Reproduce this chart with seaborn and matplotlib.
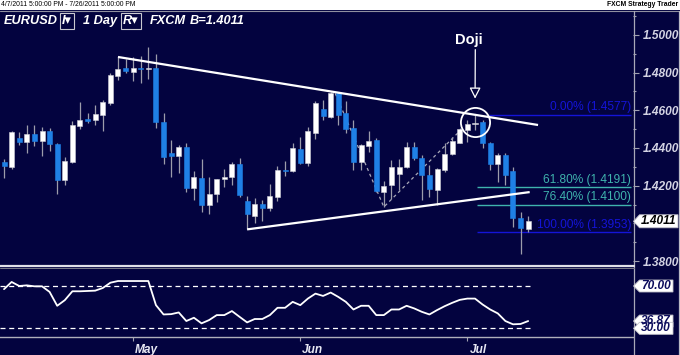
import matplotlib
matplotlib.use('Agg')
import matplotlib.pyplot as plt
import seaborn as sns
import numpy as np
from matplotlib.patches import Polygon, Rectangle
from matplotlib.lines import Line2D
from matplotlib.transforms import IdentityTransform, ScaledTranslation

# ---------------- data ----------------
opens = [1.4326, 1.4299, 1.4453, 1.4432, 1.4474, 1.4437, 1.4490, 1.4421, 1.4230, 1.4326,
         1.4517, 1.4554, 1.4549, 1.4575, 1.4639, 1.4782, 1.4825, 1.4804, 1.4825, 1.4819,
         1.4825, 1.4538, 1.4373, 1.4357, 1.4405, 1.4188, 1.4241, 1.4097, 1.4156, 1.4235,
         1.4246, 1.4315, 1.4119, 1.4039, 1.4103, 1.4081, 1.4140, 1.4283, 1.4278, 1.4395,
         1.4320, 1.4480, 1.4607, 1.4565, 1.4692, 1.4586, 1.4506, 1.4326, 1.4411, 1.4442,
         1.4166, 1.4203, 1.4262, 1.4299, 1.4405, 1.4347, 1.4257, 1.4177, 1.4283, 1.4368,
         1.4427, 1.4496, 1.4527, 1.4538, 1.4427, 1.4315, 1.4363, 1.4278, 1.4028, 1.3970]
highs = [1.4342, 1.4490, 1.4485, 1.4522, 1.4522, 1.4511, 1.4506, 1.4427, 1.4352, 1.4543,
         1.4644, 1.4586, 1.4628, 1.4655, 1.4798, 1.4883, 1.4873, 1.4883, 1.4888, 1.4936,
         1.4899, 1.4586, 1.4442, 1.4416, 1.4427, 1.4278, 1.4342, 1.4246, 1.4235, 1.4288,
         1.4326, 1.4347, 1.4145, 1.4134, 1.4124, 1.4209, 1.4304, 1.4331, 1.4427, 1.4458,
         1.4511, 1.4650, 1.4655, 1.4697, 1.4695, 1.4650, 1.4549, 1.4421, 1.4490, 1.4453,
         1.4225, 1.4336, 1.4342, 1.4432, 1.4432, 1.4363, 1.4310, 1.4294, 1.4427, 1.4458,
         1.4506, 1.4549, 1.4577, 1.4549, 1.4432, 1.4373, 1.4373, 1.4299, 1.4060, 1.4039]
lows = [1.4241, 1.4288, 1.4416, 1.4373, 1.4411, 1.4357, 1.4384, 1.4156, 1.4203, 1.4320,
        1.4501, 1.4533, 1.4522, 1.4490, 1.4628, 1.4761, 1.4798, 1.4756, 1.4745, 1.4766,
        1.4506, 1.4315, 1.4246, 1.4267, 1.4166, 1.4124, 1.4060, 1.4050, 1.4113, 1.4193,
        1.4203, 1.4140, 1.3968, 1.4002, 1.4012, 1.4065, 1.4119, 1.4251, 1.4273, 1.4315,
        1.4304, 1.4448, 1.4549, 1.4560, 1.4522, 1.4480, 1.4283, 1.4283, 1.4379, 1.4166,
        1.4087, 1.4129, 1.4177, 1.4294, 1.4336, 1.4124, 1.4140, 1.4097, 1.4273, 1.4363,
        1.4427, 1.4432, 1.4496, 1.4400, 1.4283, 1.4219, 1.4203, 1.3980, 1.3837, 1.3954]
closes = [1.4304, 1.4485, 1.4432, 1.4474, 1.4437, 1.4490, 1.4421, 1.4230, 1.4331, 1.4522,
          1.4549, 1.4543, 1.4581, 1.4644, 1.4788, 1.4819, 1.4809, 1.4825, 1.4817, 1.4825,
          1.4538, 1.4352, 1.4357, 1.4405, 1.4188, 1.4246, 1.4097, 1.4156, 1.4235, 1.4246,
          1.4315, 1.4150, 1.4050, 1.4103, 1.4081, 1.4145, 1.4283, 1.4278, 1.4400, 1.4320,
          1.4490, 1.4639, 1.4570, 1.4692, 1.4575, 1.4501, 1.4326, 1.4416, 1.4437, 1.4172,
          1.4198, 1.4299, 1.4299, 1.4405, 1.4347, 1.4257, 1.4182, 1.4288, 1.4368, 1.4437,
          1.4501, 1.4527, 1.4535, 1.4427, 1.4315, 1.4363, 1.4257, 1.4028, 1.3975, 1.4011]
rsi = [67.0, 73.8, 70.0, 70.6, 69.7, 69.7, 64.4, 51.3, 56.6, 65.0,
       65.0, 65.3, 65.6, 68.1, 73.1, 74.7, 74.7, 74.7, 74.7, 74.7,
       51.9, 43.1, 43.4, 45.0, 36.9, 40.0, 34.7, 37.8, 42.5, 42.5,
       46.3, 40.9, 35.6, 38.8, 38.8, 42.5, 49.4, 49.4, 55.0, 51.9,
       58.1, 62.8, 60.6, 63.8, 59.7, 55.0, 47.8, 51.3, 51.3, 42.5,
       42.5, 47.8, 47.8, 51.3, 48.8, 45.6, 43.1, 47.2, 50.9, 54.1,
       56.9, 58.1, 58.1, 52.5, 47.8, 44.1, 36.9, 33.8, 34.1, 36.87]

month_labels = ["May", "Jun", "Jul"]
month_idx = [17, 39, 61]
price_ticks = [1.38, 1.40, 1.42, 1.44, 1.46, 1.48, 1.50]
rsi_levels = [70, 30]
last_price = 1.4011

fib_pct = ["0.00%", "61.80%", "76.40%", "100.00%"]
fib_vals = [1.4577, 1.4191, 1.4100, 1.3953]
fib_start = [63.9, 62.2, 62.2, 62.2]
fib_colors = ["#1414d8", "#3fb3ad", "#3fb3ad", "#1414d8"]

trend_upper_x = [15, 70.3]
trend_upper_y = [1.4883, 1.4522]
trend_lower_x = [32, 69.2]
trend_lower_y = [1.3968, 1.4166]
zig_x = [43.6, 50, 60]
zig_y = [1.4690, 1.4087, 1.4490]
doji_idx = 62

# ---------------- style ----------------
sns.set_theme(style='dark')
plt.rcParams['font.family'] = ['Liberation Sans', 'DejaVu Sans']

NAVY = '#03033f'
W, H = 680, 355
fig = plt.figure(figsize=(6.8, 3.55), dpi=100, facecolor=NAVY)

def fy(py):
    return 1 - py / H

ax = fig.add_axes([0, fy(265), 633 / W, (265 - 11) / H])
axl = fig.add_axes([0, fy(337), 633 / W, (337 - 268) / H])
for a in (ax, axl):
    a.set_facecolor(NAVY)
    for s in a.spines.values():
        s.set_visible(False)
    a.grid(False)

x = np.arange(len(opens))
o = np.array(opens); h = np.array(highs); l = np.array(lows); c = np.array(closes)
up = c >= o
body_b = np.minimum(o, c)
body_h = np.maximum(np.abs(c - o), 0.0006)
colors = np.where(up, '#ffffff', '#1f80e6')
edges = np.where(up, '#d0d0d8', '#1f80e6')

ax.vlines(x, l, h, color='#9c9cab', lw=0.9, zorder=2)
ax.bar(x, body_h, bottom=body_b, width=0.66, color=colors, edgecolor=edges, lw=0.4, zorder=3)

XMIN, XMAX = -0.53, 82.8
ax.set_xlim(XMIN, XMAX)
ax.set_ylim(1.3779, 1.5127)
axl.set_xlim(XMIN, XMAX)
axl.set_ylim(21.8, 87)

# trend lines
ax.plot(trend_upper_x, trend_upper_y, color='white', lw=1.6, zorder=4, solid_capstyle='butt')
ax.plot(trend_lower_x, trend_lower_y, color='white', lw=1.6, zorder=4, solid_capstyle='butt')
ax.plot(zig_x, zig_y, color='#a8a8b8', lw=0.9, ls=(0, (2.5, 2.5)), zorder=1)

# fib lines + labels
for pct, v, xs, col in zip(fib_pct, fib_vals, fib_start, fib_colors):
    ax.hlines(v, xs, XMAX - 0.25, color=col, lw=1.0, zorder=1)
    ax.annotate(f"{pct} ({v:.4f})", xy=(XMAX - 0.25, v), xytext=(0, 1.5),
                textcoords='offset pixels', ha='right', va='bottom',
                color=col, fontsize=8.6, zorder=5)

# doji circle + arrow
doji_mid = (highs[doji_idx] + lows[doji_idx]) / 2
ax.plot([doji_idx], [doji_mid], marker='o', ms=21, mfc='none', mec='white', mew=1.3, zorder=5)
ax.annotate('', xy=(doji_idx, highs[doji_idx]), xycoords='data',
            xytext=(0.3, 65), textcoords='offset pixels',
            arrowprops=dict(arrowstyle='-|>,head_length=0.55,head_width=0.28', lw=0.9,
                            color='white', fc=NAVY, ec='white', shrinkA=0, shrinkB=11.5),
            zorder=5)
ax.annotate('Doji', xy=(doji_idx, highs[doji_idx]), xytext=(-6, 75),
            textcoords='offset pixels', ha='center', va='center', color='white',
            fontsize=10.5, fontweight='bold', zorder=5)

# y ticks on the right
ax.yaxis.tick_right()
ax.set_yticks(price_ticks)
ax.set_yticklabels([f"{t:.4f}" if abs(t - 1.40) > 1e-9 else "" for t in price_ticks])
ax.set_yticks(np.arange(1.38, 1.5101, 0.01), minor=True)
ax.tick_params(axis='y', which='major', direction='out', length=4, width=0.8, color='#a0a0b0',
               labelcolor='#d4d4e4', labelsize=8.6, pad=3, right=True, left=False)
ax.tick_params(axis='y', which='minor', direction='out', length=2.5, width=0.8, color='#a0a0b0',
               right=True, left=False)
for t in ax.get_yticklabels():
    t.set_style('italic'); t.set_weight('bold')
ax.set_xticks([])

# lower panel
sns.lineplot(x=x, y=rsi, ax=axl, color='white', lw=1.3, zorder=3)
axl.hlines(rsi_levels, XMIN, 69.2, colors='white', lw=0.9, linestyles=[(0, (4, 3))], zorder=2)
axl.set_yticks([])
axl.set_xticks(month_idx)
axl.set_xticklabels(month_labels)
axl.tick_params(axis='x', direction='out', length=3, width=0.8, color='#a0a0b0',
                labelcolor='#e8e8f4', labelsize=8.6, pad=2, bottom=True)
for t in axl.get_xticklabels():
    t.set_style('italic'); t.set_weight('bold'); t.set_ha('left')
    t.set_transform(t.get_transform() + ScaledTranslation(2 / 100, 0, fig.dpi_scale_trans))
axl.spines['bottom'].set_visible(True)
axl.spines['bottom'].set_color('#b0b0bc')
axl.spines['bottom'].set_linewidth(1.0)
axl.set_xlabel(''); axl.set_ylabel('')

# ---------------- figure furniture ----------------
fig.add_artist(Rectangle((0, fy(10)), 1, 10 / H, transform=fig.transFigure,
                         facecolor='white', edgecolor='none', zorder=0.5))
fig.add_artist(Line2D([0, 1], [fy(10.5)] * 2, transform=fig.transFigure, color='#9090a0', lw=0.8))
fig.text(1 / W, fy(5), "4/7/2011 5:00:00 PM - 7/26/2011 5:00:00 PM", fontsize=4.9,
         color='black', va='center', ha='left')
fig.text(678 / W, fy(5), "FXCM Strategy Trader", fontsize=4.9, color='black',
         fontweight='bold', va='center', ha='right')
fig.add_artist(Line2D([633.5 / W] * 2, [fy(11), 0], transform=fig.transFigure,
                      color='#a8a8b8', lw=0.9))
fig.add_artist(Line2D([678.5 / W] * 2, [fy(11), 0], transform=fig.transFigure,
                      color='#b8b8c4', lw=0.9))
fig.add_artist(Line2D([0, 633.5 / W], [fy(266)] * 2, transform=fig.transFigure,
                      color='#e0e0e8', lw=1.6))
fig.add_artist(Line2D([0, 633.5 / W], [fy(268)] * 2, transform=fig.transFigure,
                      color='#7a7a8a', lw=0.7))

# header
hdr_y = fy(21)
hk = dict(color='white', fontsize=9.2, style='italic', fontweight='bold', va='center')
box = dict(boxstyle='square,pad=0.18', fc=NAVY, ec='#c8c8d0', lw=0.8)
fig.text(4 / W, hdr_y, "EURUSD", **hk)
fig.text(62 / W, hdr_y, "I\u25be", bbox=box, **hk)
fig.text(83 / W, hdr_y, "1 Day", **hk)
fig.text(123 / W, hdr_y, "R\u25be", bbox=box, **hk)
fig.text(150 / W, hdr_y, "FXCM", **hk)
fig.text(190 / W, hdr_y, f"B={last_price:.4f}", **hk)

# value tags on the right axis
def tag(axis, value, text, tcolor, x0=633.5, x1=677, half=6.5):
    fig.canvas.draw()
    yd = axis.transData.transform((0, value))[1]
    pts = [(x0, yd), (x0 + 6, yd + half), (x1, yd + half), (x1, yd - half), (x0 + 6, yd - half)]
    fig.add_artist(Polygon(pts, closed=True, transform=IdentityTransform(),
                           facecolor='white', edgecolor='#c0c0c8', lw=0.6, zorder=3))
    return fig.text(((x0 + 6 + x1) / 2) / W, yd / H, text, color=tcolor, fontsize=8.6,
                    style='italic', fontweight='bold', ha='center', va='center', zorder=4)

tag(ax, last_price, f"{last_price:.4f}", '#000000', x1=678)
tag(axl, rsi_levels[0], f"{rsi_levels[0]:.2f}", '#0c0c5c', x1=673, half=6)
tag(axl, rsi[-1], f"{rsi[-1]:.2f}", '#0c0c5c', x1=673, half=6)
tag(axl, rsi_levels[1], f"{rsi_levels[1]:.2f}", '#0c0c5c', x1=673, half=6)

fig.savefig('out.png', dpi=100, facecolor=NAVY)
